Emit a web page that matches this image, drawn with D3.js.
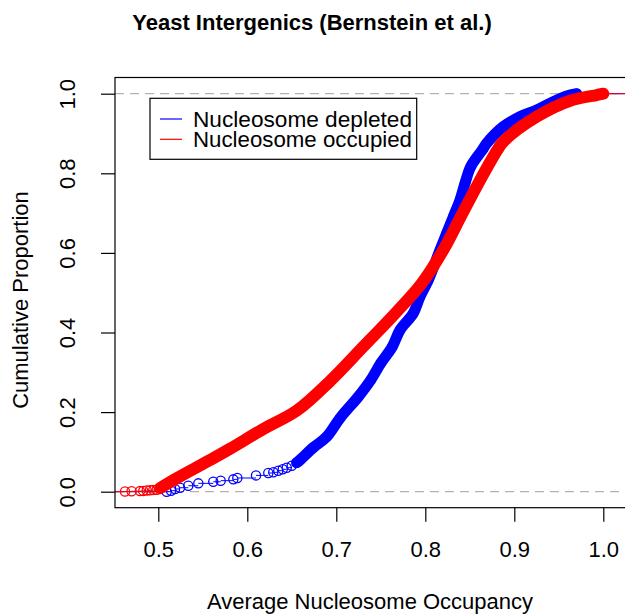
<!DOCTYPE html>
<html>
<head>
<meta charset="utf-8">
<script src="https://cdn.jsdelivr.net/npm/d3@7"></script>
<style>
  html, body { margin: 0; padding: 0; background: #fff; }
  svg { display: block; font-family: "Liberation Sans", Arial, sans-serif; }
</style>
</head>
<body>
<svg id="chart" width="625" height="616"></svg>
<script>
// ---- data ----
const title = "Yeast Intergenics (Bernstein et al.)";
const xLabel = "Average Nucleosome Occupancy";
const yLabel = "Cumulative Proportion";
const seriesNames = ["Nucleosome depleted", "Nucleosome occupied"];
const xTicks = [0.5, 0.6, 0.7, 0.8, 0.9, 1.0];
const yTicks = [0.0, 0.2, 0.4, 0.6, 0.8, 1.0];

// Nucleosome depleted: observed occupancy values and their cumulative proportions
const depletedX = [0.5094, 0.5143, 0.5188, 0.5244, 0.5337, 0.545, 0.5618, 0.5701, 0.5843, 0.5888,
  0.6098, 0.6236, 0.6292, 0.6348, 0.6398, 0.6443, 0.6499, 0.6555, 0.6592, 0.6742, 0.6892, 0.7042,
  0.7247, 0.7387, 0.7499, 0.7629, 0.7716, 0.7865, 0.794, 0.8034, 0.8165, 0.824, 0.8315, 0.839,
  0.8446, 0.851, 0.864, 0.869, 0.8876, 0.9064, 0.9252, 0.9438, 0.9626, 0.97];
const depletedP = [0.0, 0.0025, 0.0068, 0.01, 0.015, 0.021, 0.025, 0.0277, 0.031, 0.0344,
  0.041, 0.047, 0.0487, 0.0528, 0.0563, 0.0603, 0.0653, 0.0729, 0.0796, 0.111, 0.138, 0.185,
  0.2387, 0.2807, 0.3226, 0.3643, 0.4063, 0.4482, 0.49, 0.5319, 0.6073, 0.6492, 0.691, 0.7329,
  0.7749, 0.8166, 0.8585, 0.8754, 0.9171, 0.9422, 0.959, 0.98, 0.9967, 1.0];

// Nucleosome occupied
const occupiedX = [0.4626, 0.470, 0.4794, 0.4831, 0.487, 0.4907, 0.4944, 0.4982, 0.502, 0.5207,
  0.5581, 0.5806, 0.618, 0.6555, 0.693, 0.7303, 0.7679, 0.796, 0.8202, 0.8398, 0.8596, 0.8809,
  0.8876, 0.9252, 0.9626, 0.9926, 1.0];
const occupiedP = [0.0005, 0.001, 0.0015, 0.002, 0.003, 0.0035, 0.0045, 0.005, 0.009, 0.0337,
  0.0796, 0.108, 0.1575, 0.2035, 0.278, 0.3643, 0.4523, 0.5236, 0.6073, 0.691, 0.7749, 0.8585,
  0.8794, 0.9422, 0.9824, 0.9967, 1.0];

// ---- layout ----
const svg = d3.select("#chart");
const box = { left: 115, right: 626, top: 77.5, bottom: 507.7 };
const x = d3.scaleLinear().domain([0.5, 1.0]).range([158.3, 603.3]);
const y = d3.scaleLinear().domain([0, 1]).range([491.7, 93.7]);
const FS = 22;

svg.append("defs").append("clipPath").attr("id", "plotclip")
  .append("rect").attr("x", box.left).attr("y", box.top)
  .attr("width", box.right - box.left).attr("height", box.bottom - box.top);

// title
svg.append("text").attr("x", 312).attr("y", 30).attr("text-anchor", "middle")
  .attr("font-size", FS).attr("font-weight", "bold").text(title);

// reference lines
const plot = svg.append("g").attr("clip-path", "url(#plotclip)");
[0, 1].forEach(v => {
  plot.append("line").attr("x1", box.left).attr("x2", box.right)
    .attr("y1", y(v)).attr("y2", y(v))
    .attr("stroke", "#b3b3b3").attr("stroke-width", 1.2).attr("stroke-dasharray", "9,6");
});

function drawSeries(xs, ps, color, bandFrom, bandWidth) {
  const g = plot.append("g");
  const pts = xs.map((v, i) => [v, ps[i]]);
  // step segments of the empirical CDF (visible only where points are sparse)
  const segs = [[x.invert(box.left - 5), pts[0][0], 0]];
  for (let i = 0; i < bandFrom; i++) segs.push([pts[i][0], pts[i + 1][0], pts[i][1]]);
  segs.push([pts[pts.length - 1][0], x.invert(box.right + 5), 1]);
  g.selectAll("line.step").data(segs).join("line").attr("class", "step")
    .attr("x1", d => x(d[0])).attr("x2", d => x(d[1]))
    .attr("y1", d => y(d[2])).attr("y2", d => y(d[2]))
    .attr("stroke", color).attr("stroke-width", 1);
  // dense run of overlapping circles
  const dense = pts.slice(bandFrom);
  g.append("path").attr("d", d3.line().x(d => x(d[0])).y(d => y(d[1])).curve(d3.curveCatmullRom)(dense))
    .attr("fill", "none").attr("stroke", color).attr("stroke-width", bandWidth)
    .attr("stroke-linecap", "round").attr("stroke-linejoin", "round");
  g.selectAll("circle").data(pts).join("circle")
    .attr("cx", d => x(d[0])).attr("cy", d => y(d[1])).attr("r", 4.6)
    .attr("fill", "none").attr("stroke", color).attr("stroke-width", 1.3);
}
drawSeries(depletedX, depletedP, "#0000ff", 17, 11);
drawSeries(occupiedX, occupiedP, "#ff0000", 8, 12);

// frame
svg.append("rect").attr("x", box.left).attr("y", box.top)
  .attr("width", box.right - box.left).attr("height", box.bottom - box.top)
  .attr("fill", "none").attr("stroke", "#000").attr("stroke-width", 1.2);

// x axis
const xAxis = svg.append("g").attr("transform", `translate(0,${box.bottom})`)
  .call(d3.axisBottom(x).tickValues(xTicks).tickSize(14).tickSizeOuter(0).tickFormat(d3.format(".1f")));
xAxis.select(".domain").remove();
xAxis.selectAll("line").attr("stroke", "#000").attr("stroke-width", 1.2);
xAxis.selectAll("text").attr("y", 49.3).attr("dy", 0).attr("font-size", FS)
  .attr("font-family", "Liberation Sans, Arial, sans-serif").attr("fill", "#000");

// y axis
const yAxis = svg.append("g").attr("transform", `translate(${box.left},0)`)
  .call(d3.axisLeft(y).tickValues(yTicks).tickSize(14).tickSizeOuter(0).tickFormat(d3.format(".1f")));
yAxis.select(".domain").remove();
yAxis.selectAll("line").attr("stroke", "#000").attr("stroke-width", 1.2);
yAxis.selectAll("text").attr("x", 0).attr("y", 0).attr("dy", 0).attr("text-anchor", "middle")
  .attr("transform", `translate(${75 - box.left},0) rotate(-90)`)
  .attr("font-size", FS).attr("font-family", "Liberation Sans, Arial, sans-serif").attr("fill", "#000");

// axis titles
svg.append("text").attr("x", 370).attr("y", 609).attr("text-anchor", "middle")
  .attr("font-size", FS).text(xLabel);
svg.append("text").attr("transform", "translate(28,300) rotate(-90)").attr("text-anchor", "middle")
  .attr("font-size", FS).text(yLabel);

// legend
const colors = ["#0000ff", "#ff0000"];
const lg = svg.append("g");
lg.append("rect").attr("x", 150).attr("y", 98.3).attr("width", 266.7).attr("height", 61)
  .attr("fill", "#fff").attr("stroke", "#000").attr("stroke-width", 1.2);
seriesNames.forEach((name, i) => {
  const cy = 119 + i * 20.3;
  lg.append("line").attr("x1", 160).attr("x2", 182).attr("y1", cy).attr("y2", cy)
    .attr("stroke", colors[i]).attr("stroke-width", 1.2);
  lg.append("text").attr("x", 193).attr("y", cy + 7.8).attr("font-size", FS)
    .attr("textLength", 219).attr("lengthAdjust", "spacingAndGlyphs").text(name);
});
</script>
</body>
</html>
